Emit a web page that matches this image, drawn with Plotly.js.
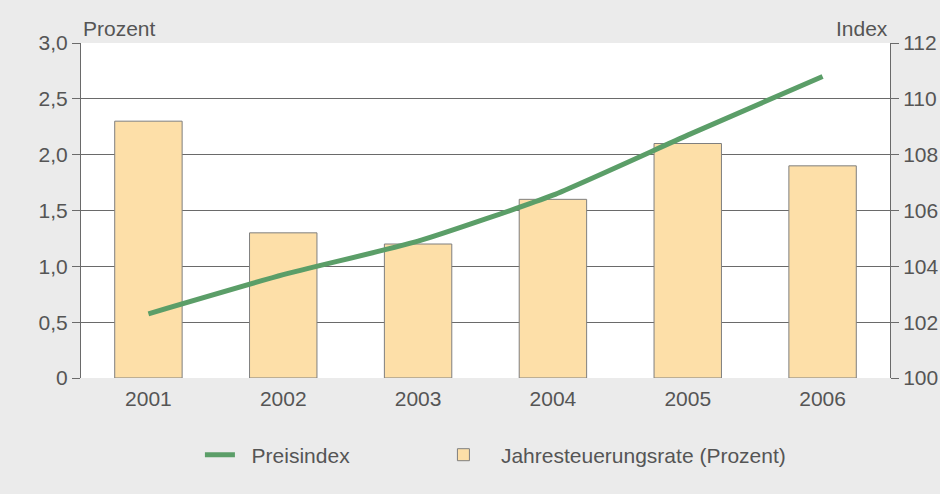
<!DOCTYPE html>
<html>
<head>
<meta charset="utf-8">
<script src="https://cdn.plot.ly/plotly-3.0.1.min.js"></script>
<style>html,body{margin:0;padding:0;background:#ebebeb;}#chart{width:940px;height:494px;}</style>
</head>
<body>
<div id="chart"></div>
<script>
const years = ['2001', '2002', '2003', '2004', '2005', '2006'];
const jahresteuerungsrate = [2.3, 1.3, 1.2, 1.6, 2.1, 1.9];
const preisindex = [102.3, 103.7, 104.9, 106.55, 108.7, 110.8];
const leftTickVals = [0, 0.5, 1.0, 1.5, 2.0, 2.5, 3.0];
const leftTickText = ['0', '0,5', '1,0', '1,5', '2,0', '2,5', '3,0'];
const rightTickVals = [100, 102, 104, 106, 108, 110, 112];
const rightTickText = ['100', '102', '104', '106', '108', '110', '112'];
const seriesNames = ['Preisindex', 'Jahresteuerungsrate (Prozent)'];

const font = 'Liberation Sans, Arial, sans-serif';
const textColor = '#555555';
const fs = 21;
const nb = '\u00A0';

const traces = [
  {
    type: 'scatter', mode: 'lines', name: nb + nb + seriesNames[0],
    x: years, y: preisindex, yaxis: 'y2', legend: 'legend',
    line: {color: '#5b9e68', width: 5, shape: 'spline', smoothing: 0.5},
    hoverinfo: 'skip'
  },
  {
    type: 'bar', name: nb + nb + nb + seriesNames[1], legend: 'legend2',
    x: years, y: jahresteuerungsrate, width: 0.5,
    marker: {color: '#fddfa8', line: {color: '#7f7f7f', width: 1}},
    hoverinfo: 'skip'
  }
];

const legendBase = {
  orientation: 'h', xanchor: 'left', y: -0.23, yanchor: 'middle',
  bgcolor: 'rgba(0,0,0,0)', font: {family: font, size: fs, color: textColor}
};

const layout = {
  width: 940, height: 494,
  paper_bgcolor: '#ebebeb', plot_bgcolor: '#ffffff',
  margin: {l: 81, r: 50, t: 43, b: 116, pad: 0},
  font: {family: font, size: fs, color: textColor},
  showlegend: true,
  legend: Object.assign({}, legendBase, {x: 0.147}),
  legend2: Object.assign({}, legendBase, {x: 0.448}),
  xaxis: {
    type: 'category', range: [-0.5, 5.5], showgrid: false, zeroline: false,
    showline: false, ticks: '', tickfont: {family: font, size: fs, color: textColor},
    ticklabelstandoff: 6, fixedrange: true
  },
  yaxis: {
    range: [0, 3], tickvals: leftTickVals, ticktext: leftTickText,
    showgrid: true, gridcolor: '#6a6a6a', gridwidth: 1, zeroline: false,
    showline: true, linecolor: '#6a6a6a', linewidth: 1,
    ticks: 'outside', ticklen: 8, tickcolor: '#6a6a6a',
    tickfont: {family: font, size: fs, color: textColor}, fixedrange: true
  },
  yaxis2: {
    range: [100, 112], tickvals: rightTickVals, ticktext: rightTickText,
    overlaying: 'y', side: 'right', showgrid: false, zeroline: false,
    showline: true, linecolor: '#6a6a6a', linewidth: 1,
    ticks: 'outside', ticklen: 8, tickcolor: '#6a6a6a',
    tickfont: {family: font, size: fs, color: textColor}, fixedrange: true
  },
  annotations: [
    {text: 'Prozent', xref: 'paper', yref: 'paper', x: 0.0, y: 1.0, xanchor: 'left', yanchor: 'bottom',
     yshift: 1, showarrow: false, font: {family: font, size: fs, color: textColor}},
    {text: 'Index', xref: 'paper', yref: 'paper', x: 1.0, y: 1.0, xanchor: 'right', yanchor: 'bottom',
     yshift: 1, showarrow: false, font: {family: font, size: fs, color: textColor}}
  ]
};

Plotly.newPlot('chart', traces, layout, {staticPlot: true, displayModeBar: false});
</script>
</body>
</html>
